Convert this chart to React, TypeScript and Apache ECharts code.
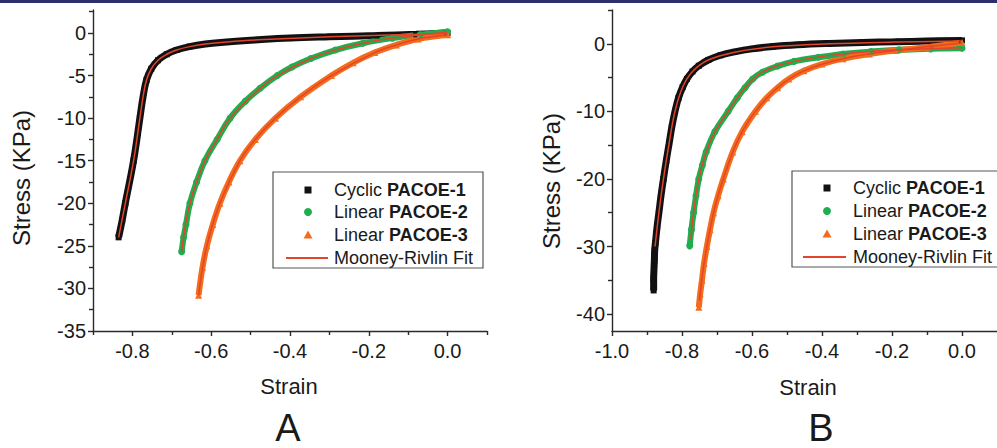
import React, { useEffect, useRef } from "react";
import * as echarts from "echarts";

// ---------- Panel A data (strain, stress in KPa) ----------
const cyclicA: [number, number][] = [
  [-0.835, -24], [-0.826, -22], [-0.818, -20], [-0.797, -15], [-0.781, -10], [-0.773, -7.5],
  [-0.764, -5.5], [-0.752, -4.2], [-0.735, -3.2], [-0.713, -2.5], [-0.688, -2.0], [-0.655, -1.6],
  [-0.615, -1.3], [-0.56, -1.05], [-0.48, -0.8], [-0.4, -0.6], [-0.3, -0.45], [-0.18, -0.3],
  [-0.08, -0.15], [0, 0],
];
const linearA2: [number, number][] = [
  [-0.675, -25.7], [-0.67, -24], [-0.664, -22.5], [-0.654, -20], [-0.637, -17.5], [-0.616, -15],
  [-0.585, -12.5], [-0.552, -10], [-0.513, -8], [-0.476, -6.5], [-0.432, -5], [-0.395, -4],
  [-0.347, -3], [-0.285, -2], [-0.215, -1.2], [-0.14, -0.6], [-0.07, -0.2], [0, 0.15],
];
const linearA3: [number, number][] = [
  [-0.632, -30.8], [-0.622, -27.5], [-0.611, -25], [-0.596, -22.5], [-0.578, -20], [-0.555, -17.5],
  [-0.527, -15], [-0.488, -12.5], [-0.437, -10], [-0.373, -7.5], [-0.295, -5], [-0.24, -3.5],
  [-0.185, -2.3], [-0.13, -1.4], [-0.075, -0.7], [0, -0.2],
];
const fitA1: [number, number][] = [
  [-0.835, -24], [-0.818, -20], [-0.797, -15], [-0.781, -10], [-0.773, -7.5], [-0.764, -5.5],
  [-0.752, -4.2], [-0.735, -3.2], [-0.713, -2.5], [-0.688, -2.0], [-0.655, -1.6], [-0.615, -1.3],
  [-0.56, -1.05], [-0.48, -0.8], [-0.3, -0.45], [-0.08, -0.15], [0, 0],
];
const fitA2: [number, number][] = [
  [-0.675, -25.7], [-0.654, -20], [-0.616, -15], [-0.585, -12.5], [-0.552, -10], [-0.476, -6.5],
  [-0.432, -5], [-0.347, -3], [-0.285, -2], [-0.215, -1.2], [-0.14, -0.6], [0, 0.1],
];
const fitA3: [number, number][] = [
  [-0.632, -30.8], [-0.611, -25], [-0.578, -20], [-0.527, -15], [-0.488, -12.5], [-0.437, -10],
  [-0.373, -7.5], [-0.295, -5], [-0.185, -2.3], [-0.13, -1.4], [-0.075, -0.7], [0, -0.2],
];

// ---------- Panel B data ----------
const cyclicB: [number, number][] = [
  [-0.881, -36.5], [-0.881, -34.8], [-0.88, -33.3], [-0.879, -32.1], [-0.878, -30.6], [-0.876, -29.5],
  [-0.871, -27], [-0.866, -25], [-0.86, -22.5], [-0.853, -20], [-0.845, -17.3], [-0.837, -14.8],
  [-0.829, -12.3], [-0.82, -10], [-0.81, -8], [-0.798, -6.4], [-0.786, -5.2], [-0.77, -4.1],
  [-0.752, -3.25], [-0.725, -2.4], [-0.69, -1.7], [-0.65, -1.2], [-0.6, -0.75], [-0.54, -0.4],
  [-0.47, -0.15], [-0.38, 0.05], [-0.285, 0.2], [-0.19, 0.3], [-0.1, 0.4], [0, 0.5],
];
const linearB2: [number, number][] = [
  [-0.778, -29.9], [-0.773, -27.5], [-0.767, -25], [-0.76, -22.5], [-0.752, -20], [-0.742, -18],
  [-0.731, -16], [-0.706, -13], [-0.668, -10], [-0.642, -8], [-0.62, -6.5], [-0.598, -5.2],
  [-0.57, -4.2], [-0.527, -3.3], [-0.48, -2.6], [-0.41, -2], [-0.34, -1.5], [-0.26, -1.15],
  [-0.18, -0.9], [-0.09, -0.75], [0, -0.65],
];
const linearB3: [number, number][] = [
  [-0.752, -39], [-0.748, -37], [-0.743, -35], [-0.737, -32.5], [-0.729, -30], [-0.72, -27.5],
  [-0.71, -25], [-0.697, -22.5], [-0.682, -20], [-0.655, -16], [-0.628, -13], [-0.59, -10],
  [-0.558, -8], [-0.527, -6.5], [-0.495, -5.2], [-0.452, -4], [-0.4, -3], [-0.34, -2.2],
  [-0.265, -1.5], [-0.19, -1], [-0.1, -0.5], [0, 0.2],
];
const fitB1: [number, number][] = [
  [-0.877, -30], [-0.866, -25], [-0.853, -20], [-0.837, -14.8], [-0.82, -10], [-0.798, -6.4],
  [-0.77, -4.1], [-0.725, -2.4], [-0.65, -1.25], [-0.54, -0.45], [-0.38, 0], [-0.19, 0.25], [0, 0.4],
];
const fitB2: [number, number][] = [
  [-0.775, -29], [-0.767, -25], [-0.752, -20], [-0.731, -16], [-0.706, -13], [-0.668, -10],
  [-0.62, -6.5], [-0.57, -4.2], [-0.48, -2.6], [-0.34, -1.5], [-0.18, -0.9], [0, -0.6],
];
const fitB3: [number, number][] = [
  [-0.75, -38], [-0.737, -32.5], [-0.71, -25], [-0.682, -20], [-0.655, -16], [-0.628, -13],
  [-0.59, -10], [-0.527, -6.5], [-0.452, -4], [-0.34, -2.2], [-0.19, -1], [0, 0.1],
];

// ---------- Ticks ----------
const xMajorA = [-0.8, -0.6, -0.4, -0.2, 0.0];
const xMinorA = [-0.9, -0.7, -0.5, -0.3, -0.1, 0.1];
const yMajorA = [-35, -30, -25, -20, -15, -10, -5, 0];
const yMinorA = [-32.5, -27.5, -22.5, -17.5, -12.5, -7.5, -2.5, 2.5];
const xMajorB = [-1.0, -0.8, -0.6, -0.4, -0.2, 0.0];
const xMinorB = [-0.9, -0.7, -0.5, -0.3, -0.1];
const yMajorB = [-40, -30, -20, -10, 0];
const yMinorB = [-35, -25, -15, -5, 5];

const legendNames = ["Cyclic ", "Linear ", "Linear ", "Mooney-Rivlin Fit"];
const legendBold = ["PACOE-1", "PACOE-2", "PACOE-3", ""];

const FONT = "'Liberation Sans', Arial, Helvetica, sans-serif";
const AXIS_COLOR = "#2a2a2a";
const TEXT_COLOR = "#1a1a1a";
const C_BLACK = "#111111";
const C_GREEN = "#1fae4f";
const C_ORANGE = "#f36c1c";
const C_FIT = "#e5432b";

function axesFor(
  gridIndex: number,
  xMin: number, xMax: number, yMin: number, yMax: number,
  xMajor: number[], xMinor: number[], yMajor: number[], yMinor: number[]
) {
  const lineStyle = { color: AXIS_COLOR, width: 1.4 };
  const label = { fontSize: 20, color: TEXT_COLOR, fontFamily: FONT };
  const xAxes = [
    {
      gridIndex, type: "value", position: "bottom", min: xMin, max: xMax,
      axisLine: { show: true, onZero: false, lineStyle },
      axisTick: { show: true, customValues: xMajor, length: 5, inside: false, lineStyle },
      axisLabel: { ...label, customValues: xMajor, margin: 10, formatter: (v: number) => v.toFixed(1) },
      splitLine: { show: false },
    },
    {
      gridIndex, type: "value", position: "bottom", min: xMin, max: xMax,
      axisLine: { show: false, onZero: false },
      axisTick: { show: true, customValues: xMinor, length: 4, inside: false, lineStyle },
      axisLabel: { show: false },
      splitLine: { show: false },
    },
  ];
  const yAxes = [
    {
      gridIndex, type: "value", position: "left", min: yMin, max: yMax,
      axisLine: { show: true, onZero: false, lineStyle },
      axisTick: { show: true, customValues: yMajor, length: 5, inside: false, lineStyle },
      axisLabel: { ...label, customValues: yMajor, margin: 7, formatter: (v: number) => String(v) },
      splitLine: { show: false },
    },
    {
      gridIndex, type: "value", position: "left", min: yMin, max: yMax,
      axisLine: { show: false, onZero: false },
      axisTick: { show: true, customValues: yMinor, length: 4, inside: false, lineStyle },
      axisLabel: { show: false },
      splitLine: { show: false },
    },
  ];
  return { xAxes, yAxes };
}

function dataSeries(data: [number, number][], color: string, symbol: string, size: number, width: number, axisIdx: number) {
  return {
    type: "line", data, xAxisIndex: axisIdx, yAxisIndex: axisIdx,
    smooth: 0.4, symbol, symbolSize: size, showSymbol: true,
    itemStyle: { color }, lineStyle: { color, width }, z: 2, silent: true,
  };
}
function fitSeries(data: [number, number][], axisIdx: number) {
  return {
    type: "line", data, xAxisIndex: axisIdx, yAxisIndex: axisIdx,
    smooth: 0.4, symbol: "none", lineStyle: { color: C_FIT, width: 1.5 }, z: 3, silent: true,
  };
}

function legend(boxX: number, boxY: number, boxW: number, symX: number, textX: number, rows: number[], lineX1: number, lineX2: number) {
  const els: any[] = [
    {
      type: "rect", shape: { x: boxX, y: boxY, width: boxW, height: 96 },
      style: { fill: "#fff", stroke: "#555", lineWidth: 1.2 }, z: 10,
    },
    { type: "rect", shape: { x: symX - 3.5, y: rows[0] - 3.5, width: 7, height: 7 }, style: { fill: C_BLACK }, z: 11 },
    { type: "circle", shape: { cx: symX, cy: rows[1], r: 4 }, style: { fill: C_GREEN }, z: 11 },
    { type: "polygon", shape: { points: [[symX, rows[2] - 4.5], [symX + 4.5, rows[2] + 3.5], [symX - 4.5, rows[2] + 3.5]] }, style: { fill: C_ORANGE }, z: 11 },
    { type: "line", shape: { x1: lineX1, y1: rows[3], x2: lineX2, y2: rows[3] }, style: { stroke: C_FIT, lineWidth: 2 }, z: 11 },
  ];
  rows.forEach((ry, i) => {
    els.push({
      type: "text", x: textX, y: ry, z: 11,
      style: {
        text: legendBold[i] ? `{n|${legendNames[i]}}{b|${legendBold[i]}}` : `{n|${legendNames[i]}}`,
        textVerticalAlign: "middle", textAlign: "left",
        rich: {
          n: { fontSize: 18, fontFamily: FONT, fill: TEXT_COLOR },
          b: { fontSize: 18, fontFamily: FONT, fontWeight: "bold", fill: TEXT_COLOR },
        },
      },
    });
  });
  return els;
}

export default function App() {
  const ref = useRef<HTMLDivElement>(null);
  useEffect(() => {
    document.body.style.margin = "0";
    const chart = echarts.init(ref.current!, null, { renderer: "svg", width: 997, height: 448 });
    const a = axesFor(0, -0.9, 0.1, -35, 2.7, xMajorA, xMinorA, yMajorA, yMinorA);
    const b = axesFor(1, -1.0, 0.1, -42.5, 5, xMajorB, xMinorB, yMajorB, yMinorB);
    const titleStyle = (t: string, size: number, va = "middle") => ({ text: t, fontSize: size, fontFamily: FONT, fill: TEXT_COLOR, textAlign: "center", textVerticalAlign: va });
    const option: any = {
      animation: false,
      backgroundColor: "#ffffff",
      grid: [
        { left: 93, top: 10, width: 394, height: 321 },
        { left: 612, top: 10, width: 392, height: 321 },
      ],
      xAxis: [...a.xAxes, ...b.xAxes],
      yAxis: [...a.yAxes, ...b.yAxes],
      series: [
        dataSeries(cyclicA, C_BLACK, "rect", 6, 7, 0),
        dataSeries(linearA2, C_GREEN, "circle", 7, 6, 0),
        dataSeries(linearA3, C_ORANGE, "triangle", 7, 6, 0),
        fitSeries(fitA1, 0), fitSeries(fitA2, 0), fitSeries(fitA3, 0),
        dataSeries(cyclicB, C_BLACK, "rect", 6, 7, 2),
        dataSeries(linearB2, C_GREEN, "circle", 7, 6, 2),
        dataSeries(linearB3, C_ORANGE, "triangle", 7, 6, 2),
        fitSeries(fitB1, 2), fitSeries(fitB2, 2), fitSeries(fitB3, 2),
      ],
      graphic: [
        { type: "rect", shape: { x: 0, y: 0, width: 997, height: 3 }, style: { fill: "#2b2f6e" }, z: 20 },
        { type: "text", x: 21, y: 178, rotation: Math.PI / 2, style: titleStyle("Stress (KPa)", 24) },
        { type: "text", x: 551, y: 181, rotation: Math.PI / 2, style: titleStyle("Stress (KPa)", 24) },
        { type: "text", x: 289, y: 386, style: titleStyle("Strain", 22) },
        { type: "text", x: 808, y: 387, style: titleStyle("Strain", 22) },
        { type: "text", x: 288, y: 447, style: titleStyle("A", 38, "bottom") },
        { type: "text", x: 821, y: 447, style: titleStyle("B", 38, "bottom") },
        ...legend(273, 172, 210, 308, 334, [190, 212, 235, 258], 286, 328),
        ...legend(792, 171, 215, 827, 853, [188, 211, 234, 257], 803, 846),
      ],
    };
    chart.setOption(option);
    return () => chart.dispose();
  }, []);
  return <div ref={ref} style={{ width: 997, height: 448, position: "absolute", left: 0, top: 0 }} />;
}
